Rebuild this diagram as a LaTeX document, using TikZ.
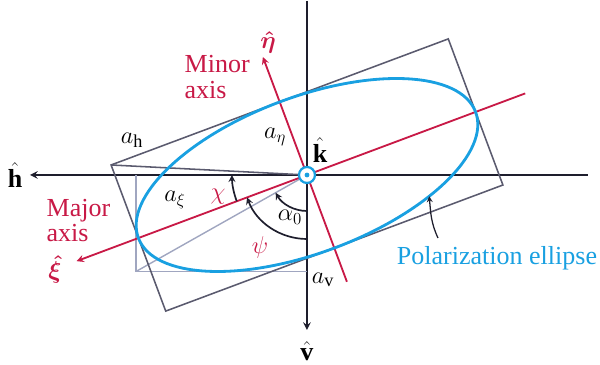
\documentclass[tikz,border=0pt]{standalone}
\usepackage{amsmath}
\usepackage{fontspec}
\setmainfont{Liberation Serif}
\usepackage{xcolor}
\definecolor{axred}{RGB}{200,25,70}
\definecolor{ellblue}{RGB}{25,160,225}
\definecolor{boxgray}{RGB}{90,90,110}
\definecolor{boxlight}{RGB}{160,166,192}
\definecolor{axdark}{RGB}{30,30,45}

\begin{document}
\begin{tikzpicture}[>=stealth, font=\fontsize{18.5}{18}\selectfont, x=1cm, y=1cm,
  axis/.style={draw=axdark, line width=1.4pt},
  princ/.style={draw=axred, line width=1.3pt},
  rect/.style={draw=boxgray, line width=1.1pt},
  proj/.style={draw=boxlight, line width=1pt},
  ang/.style={draw=axdark, line width=1.2pt, ->},
  lab/.style={inner sep=1pt},
  redlab/.style={lab, text=axred, align=left}]
  \useasboundingbox (-7.675,-4.75) rectangle (7.325,4.375);
  \coordinate (O) at (0,0);
  % h and v axes
  \draw[axis, ->] (7.025,0) -- (-6.925,0) coordinate (hend);
  \draw[axis, ->] (0,4.35) -- (0,-3.875) coordinate (vend);
  \node[lab] (hhat) at (-7.3,0) {$\hat{\mathbf{h}}$};
  \node[lab] (vhat) at (0,-4.4) {$\hat{\mathbf{v}}$};
  % projection onto h and v
  \draw[proj] (-4.27,0) -- (-4.27,-2.41) coordinate (pc) -- (0,-2.41);
  \draw[proj] (O) -- (pc);
  % box, principal axes and ellipse
  \begin{scope}[rotate=20.5]
    \draw[rect] (-4.5,-1.95) rectangle (4.5,1.95);
    \draw[rect] (-4.5,1.95) -- (O);
    \draw[princ, ->] (5.825,0) -- (-6.15,0) coordinate (xiend);
    \draw[princ, ->] (0,-2.85) -- (0,3.15) coordinate (etaend);
    \draw[ellblue, line width=2pt] (O) ellipse[x radius=4.5, y radius=1.95];
    \coordinate (phead) at (-53.5:4.5 and 1.95);
  \end{scope}
  % angles
  \draw[ang] (O) ++(200.5:1.875) arc[start angle=200.5, end angle=180, radius=1.875];
  \draw[ang] (O) ++(270:1.6) arc[start angle=270, end angle=200.5, radius=1.6];
  \draw[ang] (O) ++(270:0.9) arc[start angle=270, end angle=209.4, radius=0.9];
  % origin, k out of the page
  \node[circle, draw=ellblue, fill=white, line width=1.6pt, minimum size=0.4cm, inner sep=0pt] (k) at (O) {};
  \fill[ellblue] (k) circle (0.06);
  % labels
  \node[lab] (khat) at (0.325,0.625) {$\hat{\mathbf{k}}$};
  \node[redlab] (etahat) at (-0.975,3.325) {$\boldsymbol{\hat{\eta}}$};
  \node[redlab] (xihat) at (-6.3,-2.35) {$\boldsymbol{\hat{\xi}}$};
  \node[redlab, anchor=west] (minor) at (-3.1,2.45) {Minor\\axis};
  \node[redlab, anchor=west] (major) at (-6.55,-1.13) {Major\\axis};
  \node[lab] (ah) at (-4.375,0.875) {$a_{\mathrm{h}}$};
  \node[lab] (aeta) at (-0.8,0.95) {$a_{\eta}$};
  \node[lab] (axi) at (-3.3,-0.625) {$a_{\xi}$};
  \node[lab] (av) at (0.4,-2.625) {$a_{\mathrm{v}}$};
  \node[redlab] (chi) at (-2.225,-0.55) {$\chi$};
  \node[redlab] (psi) at (-1.175,-1.8) {$\psi$};
  \node[lab] (alpha) at (-0.425,-1.05) {$\alpha_0$};
  \node[lab, text=ellblue] (pol) at (4.75,-2.075) {Polarization ellipse};
  \coordinate (ptail) at (3.275,-1.575);
  \draw[->, axdark, line width=0.9pt] (ptail) to[out=115, in=-85] (phead);
\end{tikzpicture}
\end{document}
